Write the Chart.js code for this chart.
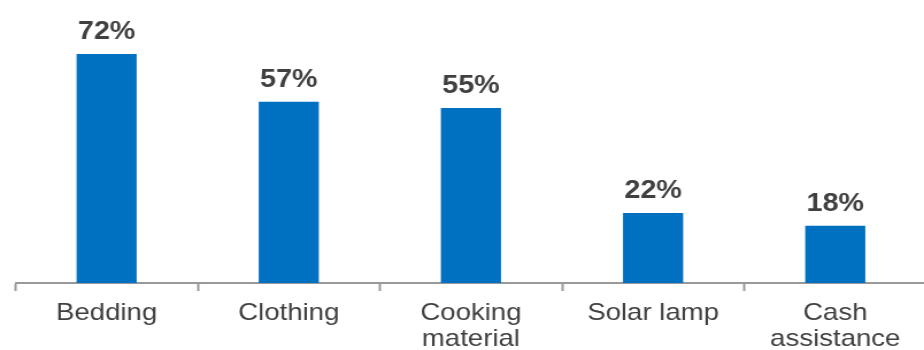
<!DOCTYPE html>
<html>
<head>
<meta charset="utf-8">
<script src="https://cdn.jsdelivr.net/npm/chart.js@4/dist/chart.umd.min.js"></script>
<style>
  html, body { margin: 0; padding: 0; background: #fff; overflow: hidden; width: 924px; height: 350px; }
  #c { display: block; transform-origin: 0 0; transform: scaleX(1.1493); }
</style>
</head>
<body>
<canvas id="c" width="806" height="350"></canvas>
<script>
const categories = ['Bedding', 'Clothing', ['Cooking', 'material'], 'Solar lamp', ['Cash', 'assistance']];
const values = [72, 57, 55, 22, 18];
const valueLabels = ['72%', '57%', '55%', '22%', '18%'];

const barLabels = {
  id: 'barLabels',
  afterDatasetsDraw(chart) {
    const ctx = chart.ctx;
    const meta = chart.getDatasetMeta(0);
    ctx.save();
    ctx.font = 'bold 25px "Liberation Sans", Arial, sans-serif';
    ctx.fillStyle = '#404040';
    ctx.textAlign = 'center';
    ctx.textBaseline = 'alphabetic';
    meta.data.forEach((bar, i) => {
      ctx.fillText(valueLabels[i], bar.x, bar.y - 15);
    });
    ctx.restore();
  }
};

new Chart(document.getElementById('c'), {
  type: 'bar',
  data: {
    labels: categories,
    datasets: [{
      data: values,
      backgroundColor: '#0070C0',
      borderWidth: 0,
      barPercentage: 0.33,
      categoryPercentage: 1.0
    }]
  },
  options: {
    responsive: false,
    animation: false,
    layout: { padding: { left: 13.5, right: 0, top: 0, bottom: 0 } },
    plugins: { legend: { display: false }, tooltip: { enabled: false } },
    scales: {
      x: {
        z: 1,
        grid: {
          offset: true,
          drawOnChartArea: false,
          drawTicks: true,
          tickLength: 8,
          tickWidth: 2,
          color: '#999999'
        },
        border: { display: true, color: '#999999', width: 2 },
        ticks: {
          color: '#404040',
          padding: 9,
          maxRotation: 0,
          autoSkip: false,
          font: { family: '"Liberation Sans", Arial, sans-serif', size: 24, lineHeight: 1.08 }
        },
        afterFit(scale) { scale.height = 67; }
      },
      y: {
        display: false,
        min: 0,
        max: 89
      }
    }
  },
  plugins: [barLabels]
});
</script>
</body>
</html>
